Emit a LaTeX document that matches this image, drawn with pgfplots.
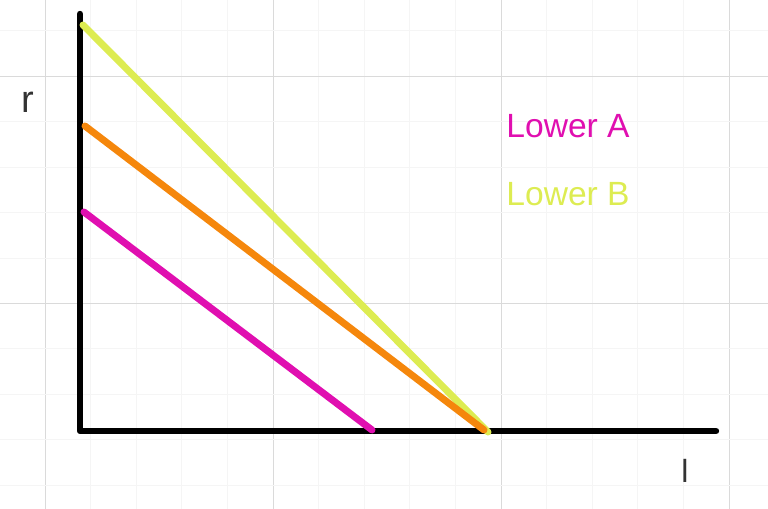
\documentclass[border=0pt]{standalone}
\usepackage{fontspec}
\setmainfont{Liberation Sans}
\usepackage{pgfplots}
\pgfplotsset{compat=1.18}
\definecolor{gridmaj}{HTML}{DADADA}
\definecolor{gridmin}{HTML}{F5F5F5}
\definecolor{lowA}{HTML}{E00FB0}
\definecolor{lowB}{HTML}{DDEC52}
\definecolor{midC}{HTML}{F5870C}
\definecolor{labgray}{HTML}{333333}
\begin{document}
\begin{tikzpicture}
\begin{axis}[
  scale only axis, width=384pt, height=254.5pt,
  xmin=0, xmax=768, ymin=0, ymax=509, y dir=reverse,
  axis line style={draw=none}, tick style={draw=none},
  xticklabels={}, yticklabels={},
  xtick={45,273,501,729}, ytick={76,303},
  minor xtick={90.6,136.2,181.8,227.4,318.6,364.2,409.8,455.4,546.6,592.2,637.8,683.4},
  minor ytick={30.4,121.6,167.2,212.8,258.4,348.6,394.2,439.8,485.4},
  grid=both,
  major grid style={gridmaj, line width=0.5pt},
  minor grid style={gridmin, line width=0.5pt},
  every axis plot/.append style={line cap=round, line join=round},
]
% axes drawn as black strokes
\addplot[black, line width=3.2pt] coordinates {(80,14) (80,431) (716,431)};
% lines
\addplot[lowB, line width=3.5pt] coordinates {(83,25) (488,432)};
\addplot[midC, line width=3.5pt] coordinates {(85,126) (484,430)};
\addplot[lowA, line width=3.5pt] coordinates {(84,212) (372,430)};
% labels
\node[anchor=west, text=lowA, font=\fontsize{16.8}{18}\selectfont, inner sep=0pt] at (axis cs:506,126) {Lower A};
\node[anchor=west, text=lowB, font=\fontsize{16.8}{18}\selectfont, inner sep=0pt] at (axis cs:506,194) {Lower B};
\node[text=labgray, font=\fontsize{19}{20}\selectfont, inner sep=0pt] at (axis cs:28,102) {r};
\node[text=labgray, font=\fontsize{16}{18}\selectfont, inner sep=0pt] at (axis cs:685,471) {l};
\end{axis}
\pgfresetboundingbox
\useasboundingbox (current axis.south west) rectangle (current axis.north east);
\end{tikzpicture}
\end{document}
